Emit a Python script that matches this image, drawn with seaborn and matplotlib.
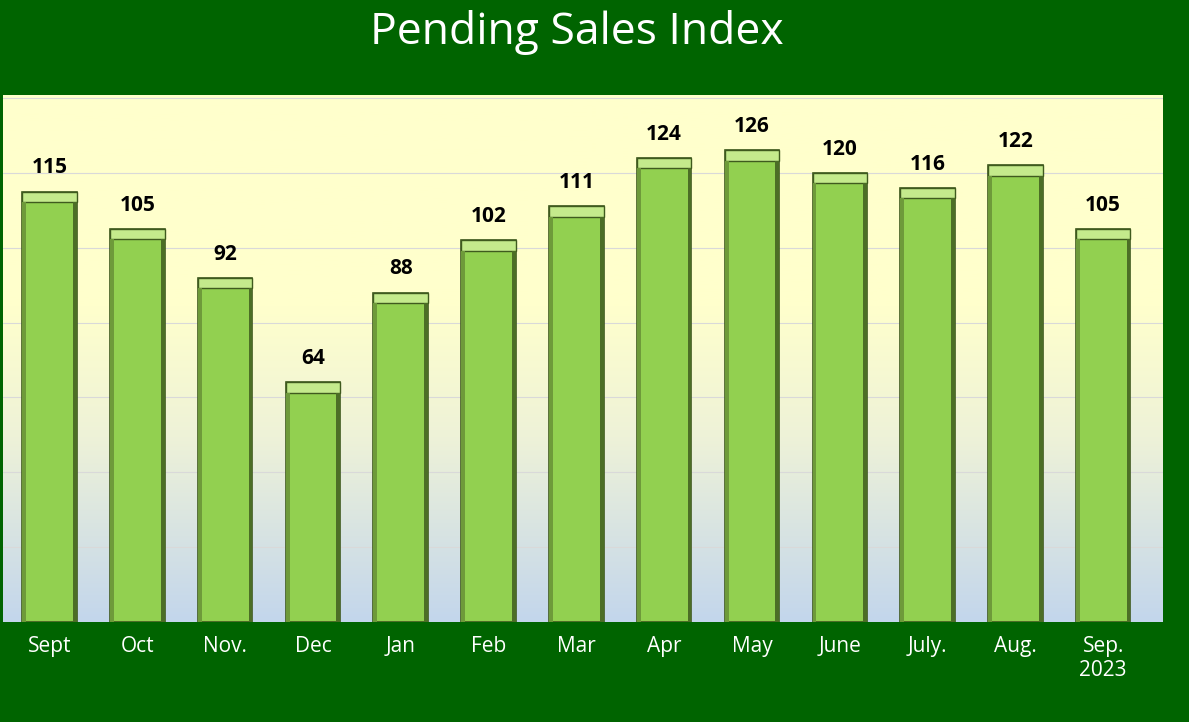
import numpy as np
import pandas as pd
import seaborn as sns
import matplotlib
matplotlib.use("Agg")
import matplotlib.pyplot as plt
from matplotlib.colors import LinearSegmentedColormap
from matplotlib.patches import Rectangle

months = ["Sept", "Oct", "Nov.", "Dec", "Jan", "Feb", "Mar", "Apr", "May", "June", "July.", "Aug.", "Sep.\n2023"]
values = [115, 105, 92, 64, 88, 102, 111, 124, 126, 120, 116, 122, 105]
title = "Pending Sales Index"

sns.set_theme(style="white")
plt.rcParams['font.family'] = ['Open Sans', 'DejaVu Sans']
bg = "#006400"
fig = plt.figure(figsize=(11.89, 7.22), dpi=100, facecolor=bg)
ax = fig.add_axes([0.0025, 0.1385, 0.9755, 0.7295])

df = pd.DataFrame({"m": months, "v": values})
sns.barplot(data=df, x="m", y="v", color="#92D050", saturation=1, width=0.62, ax=ax, zorder=3,
            edgecolor="#3f5a1e", linewidth=1.2)
ax.set_ylim(0, 140.7)
ax.set_xlim(-0.53, 12.68)

# gradient background
cmap = LinearSegmentedColormap.from_list("bg", [(0, "#C3D6EC"), (0.35, "#EEF2D8"), (0.6, "#FFFFCC"), (1, "#FFFFCC")])
grad = np.linspace(0, 1, 256).reshape(-1, 1)
ax.imshow(grad, aspect="auto", cmap=cmap, origin="lower",
          extent=[ax.get_xlim()[0], ax.get_xlim()[1], 0, 140.7], zorder=0)

for y in range(20, 141, 20):
    ax.axhline(y, color="#D9D9D9", lw=0.8, zorder=1)

# bevel effects based on patch geometry
for p in ax.patches[:len(values)]:
    x, w, h = p.get_x(), p.get_width(), p.get_height()
    ax.add_patch(Rectangle((x, h - 2.8), w, 2.8, facecolor="#C4EA8C", edgecolor="#3f5a1e", lw=1.0, zorder=4))
    ax.add_patch(Rectangle((x, 0), w * 0.07, h - 2.8, facecolor="#6E9A3A", edgecolor="none", zorder=4))
    ax.add_patch(Rectangle((x + w * 0.93, 0), w * 0.07, h - 2.8, facecolor="#4C6E26", edgecolor="none", zorder=4))
    ax.text(x + w / 2, h + 3.5, f"{int(h)}", ha="center", va="bottom", fontsize=15,
            fontweight="bold", color="black", zorder=5)

ax.set_yticks([])
ax.set_xlabel("")
ax.set_ylabel("")
ax.tick_params(axis="x", colors="white", labelsize=15, length=0, pad=10)
for s in ax.spines.values():
    s.set_visible(False)

fig.text(0.485, 0.955, title, ha="center", va="center", color="white", fontsize=32)
fig.savefig("out.png", dpi=100, facecolor=bg)
